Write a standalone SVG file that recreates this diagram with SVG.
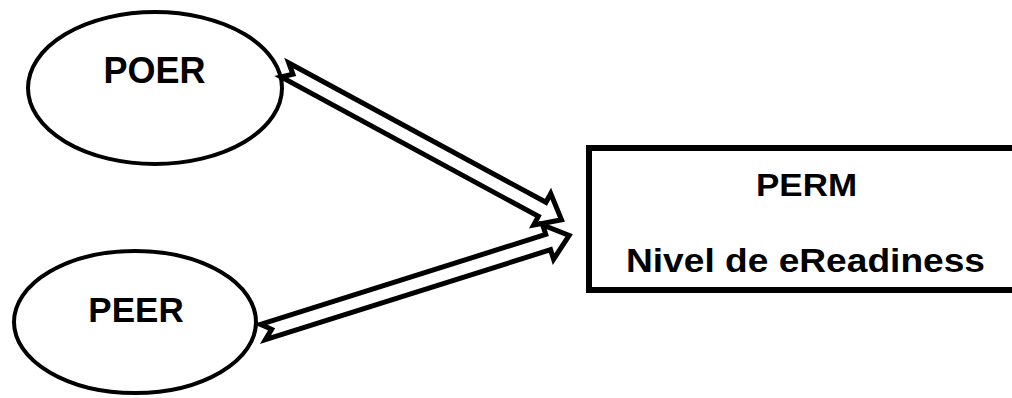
<svg xmlns="http://www.w3.org/2000/svg" width="1012" height="398" viewBox="0 0 1012 398">
  <style>
    .node { fill: #ffffff; stroke: #000000; }
    .ell { stroke-width: 4; }
    .box { stroke-width: 6; }
    .lbl { font-family: "Liberation Sans", Arial, sans-serif; font-weight: bold; fill: #000000; }
    .arrow { fill: #ffffff; stroke: #000000; stroke-width: 5; stroke-linejoin: miter; stroke-miterlimit: 10; }
  </style>
  <rect x="0" y="0" width="1012" height="398" fill="#ffffff"/>
  <g id="node-poer">
    <ellipse class="node ell" cx="155" cy="88" rx="127" ry="76"/>
    <text class="lbl" x="154.5" y="83" font-size="36" text-anchor="middle">POER</text>
  </g>
  <g id="node-peer">
    <ellipse class="node ell" cx="135" cy="322" rx="121" ry="71"/>
    <text class="lbl" x="136" y="322" font-size="35" text-anchor="middle">PEER</text>
  </g>
  <g id="node-perm">
    <rect class="node box" x="589" y="148" width="430" height="142"/>
    <text class="lbl" x="756" y="196" font-size="32" textLength="101" lengthAdjust="spacingAndGlyphs">PERM</text>
    <text class="lbl" x="626" y="272" font-size="33" textLength="359" lengthAdjust="spacingAndGlyphs">Nivel de eReadiness</text>
  </g>
  <g id="connectors">
    <polygon class="arrow" transform="translate(285,70) rotate(28.45)" points="0,-8 292.5,-8 292.5,-18 314.5,0 292.5,18 292.5,8 0,8 9,0"/>
    <polygon class="arrow" transform="translate(263,332) rotate(-17.5)" points="0,-8 299,-8 299,-18 321,0 299,18 299,8 0,8 9,0"/>
  </g>
</svg>
